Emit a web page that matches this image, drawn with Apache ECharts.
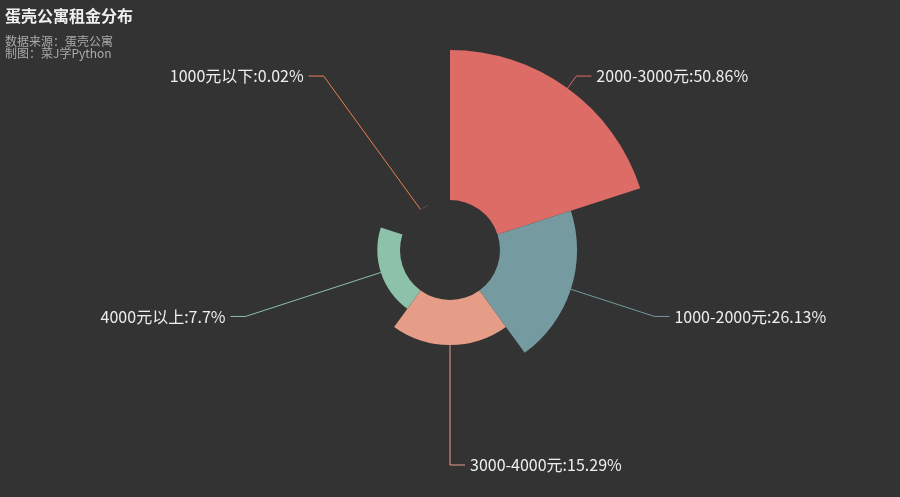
<!DOCTYPE html>
<html>
<head>
<meta charset="utf-8">
<script src="https://cdn.jsdelivr.net/npm/echarts@6/dist/echarts.min.js"></script>
<style>
html, body { margin: 0; padding: 0; background: #333333; }
#main { width: 900px; height: 497px; }
</style>
</head>
<body>
<div id="main"></div>
<script>
// 租金区间和占比（%）
var categories = ['2000-3000元', '1000-2000元', '3000-4000元', '4000元以上', '1000元以下'];
var values = [50.86, 26.13, 15.29, 7.7, 0.02];
var colors = ['#dd6b66', '#759aa0', '#e69d87', '#8dc1a9', '#ea7e53'];

var myChart = echarts.init(document.getElementById('main'));

var pieData = categories.map(function (name, i) {
    return { name: name, value: values[i] };
});

var option = {
    backgroundColor: '#333333',
    color: colors,
    textStyle: { fontFamily: '"Noto Sans CJK SC", sans-serif' },
    title: {
        text: '蛋壳公寓租金分布',
        subtext: '数据来源：蛋壳公寓\n制图：菜J学Python',
        left: 0,
        top: 3,
        itemGap: 11,
        textStyle: { color: '#eeeeee', fontSize: 16, fontWeight: 'bold' },
        subtextStyle: { color: '#aaaaaa', fontSize: 12, lineHeight: 12 }
    },
    series: [
        {
            name: '',
            type: 'pie',
            roseType: 'area',
            center: ['50%', 250],
            radius: [50, 200],
            data: pieData,
            label: {
                show: true,
                color: '#eeeeee',
                fontSize: 16,
                formatter: '{b}:{d}%'
            },
            labelLine: { length: 15, length2: 15 }
        }
    ]
};

myChart.setOption(option);
</script>
</body>
</html>
